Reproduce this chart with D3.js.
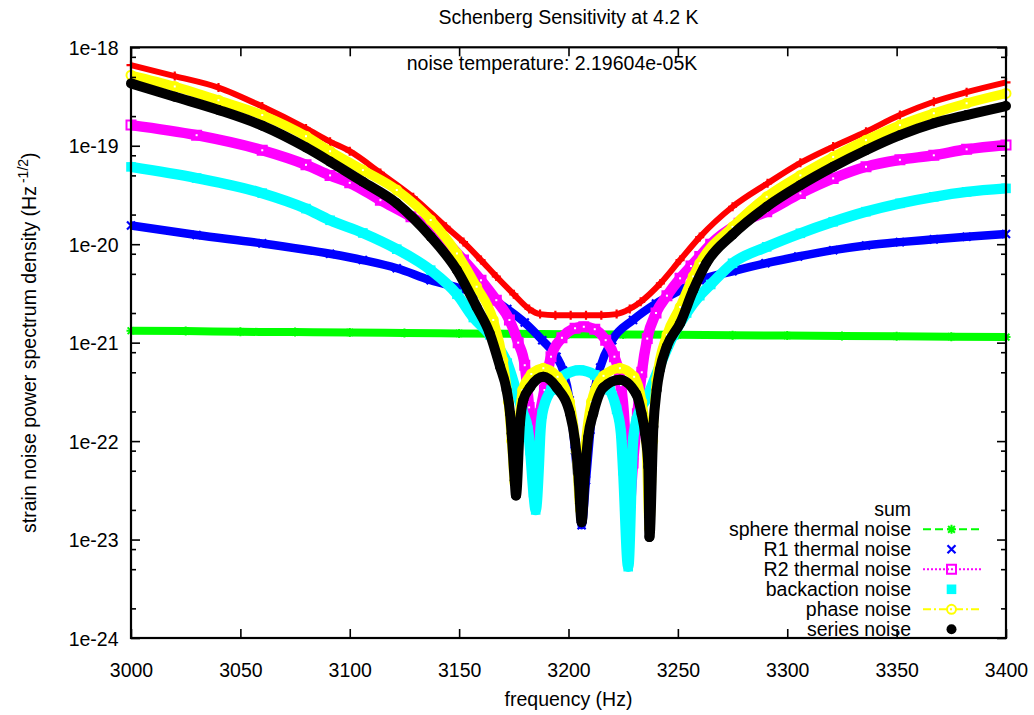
<!DOCTYPE html>
<html><head><meta charset="utf-8">
<script src="https://cdn.jsdelivr.net/npm/d3@7"></script>
<style>
body{margin:0;background:#fff}
svg{display:block;background:#fff}
text{font-family:"Liberation Sans",Arial,Helvetica,sans-serif;fill:#000}
</style>
</head><body>
<svg id="chart" width="1034" height="715"></svg>
<script>
// ---------- data ----------
const chartTitle = "Schenberg Sensitivity at 4.2 K";
const noteText = "noise temperature: 2.19604e-05K";
const xLabel = "frequency (Hz)";
const freqTicks = [3000,3050,3100,3150,3200,3250,3300,3350,3400];
const yMajorTicks = [1e-24,1e-23,1e-22,1e-21,1e-20,1e-19,1e-18];
const yMinorMantissas = [2,5,8];
const seriesNames = ["sum","sphere thermal noise","R1 thermal noise","R2 thermal noise","backaction noise","phase noise","series noise"];

const sumNoise = [[3000,6.6e-19],[3020,5.1e-19],[3040,3.9e-19],[3060,2.5e-19],[3080,1.5e-19],[3091,1.1e-19],[3100,8.8e-20],[3114,5.3e-20],[3129,3.0e-20],[3144,1.5e-20],[3152,1.05e-20],[3160,6.9e-21],[3167,4.7e-21],[3175,3.1e-21],[3182,2.2e-21],[3187,1.95e-21],[3194,1.9e-21],[3201,1.9e-21],[3208,1.9e-21],[3215,1.9e-21],[3222,1.95e-21],[3228,2.2e-21],[3233,2.6e-21],[3242,4.0e-21],[3251,6.9e-21],[3260,1.18e-20],[3275,2.4e-20],[3291,4.15e-20],[3306,6.7e-20],[3321,9.8e-20],[3336,1.39e-19],[3351.5,2.05e-19],[3367,2.8e-19],[3382,3.5e-19],[3400,4.4e-19]];

const sphereThermal = [[3000,1.32e-21],[3025,1.31e-21],[3050,1.29e-21],[3075,1.28e-21],[3100,1.27e-21],[3125,1.25e-21],[3150,1.24e-21],[3175,1.23e-21],[3200,1.22e-21],[3225,1.21e-21],[3250,1.2e-21],[3275,1.19e-21],[3300,1.18e-21],[3325,1.17e-21],[3350,1.16e-21],[3375,1.15e-21],[3400,1.14e-21]];

const r1Thermal = [[3000,1.55e-20],[3030,1.24e-20],[3060,1.02e-20],[3091,8.0e-21],[3106,6.9e-21],[3121.5,5.7e-21],[3137,4.3e-21],[3152,3.5e-21],[3165,2.8e-21],[3172,2.2e-21],[3180,1.6e-21],[3188,1.06e-21],[3194.5,7.2e-22],[3197.5,5.2e-22],[3200.5,2.6e-22],[3203,8e-23],[3205,2.5e-23],[3206,1.4e-23],[3208,4e-23],[3210,1.3e-22],[3212,3.3e-22],[3214.5,5.6e-22],[3220,1.06e-21],[3229.5,1.7e-21],[3240,2.5e-21],[3251,3.4e-21],[3260,4.3e-21],[3275,5.3e-21],[3290,6.4e-21],[3305,7.5e-21],[3321,8.7e-21],[3336,9.7e-21],[3351.5,1.05e-20],[3367,1.12e-20],[3382,1.19e-20],[3400,1.27e-20]];

const r2Thermal = [[3000,1.62e-19],[3030,1.28e-19],[3060,9.0e-20],[3080,6.4e-20],[3091,5.0e-20],[3100,4.2e-20],[3114,2.8e-20],[3128,1.9e-20],[3140,1.3e-20],[3152,6.9e-21],[3160,4.3e-21],[3167,2.7e-21],[3173,1.7e-21],[3177,1.0e-21],[3180,5.9e-22],[3182,2.2e-22],[3184.5,5.5e-23],[3187,1.9e-22],[3189,3.3e-22],[3192,7.2e-22],[3197,1.12e-21],[3203,1.4e-21],[3207,1.45e-21],[3212,1.37e-21],[3217,1.06e-21],[3221,7.2e-22],[3224,3.7e-22],[3226,1.0e-22],[3227,1.3e-23],[3229.5,6e-23],[3231.5,1.9e-22],[3233.5,5e-22],[3236,1.1e-21],[3240,2.0e-21],[3245,3.0e-21],[3251,4.5e-21],[3256,6.0e-21],[3260,7.5e-21],[3265,1.0e-20],[3278,1.63e-20],[3290.6,2.14e-20],[3306,3.28e-20],[3321,4.66e-20],[3336,6.12e-20],[3351.5,7.2e-20],[3367,8.0e-20],[3382,9.2e-20],[3400,1.02e-19]];

const backaction = [[3000,6.1e-20],[3030,4.7e-20],[3060,3.3e-20],[3080,2.3e-20],[3091,1.75e-20],[3106,1.3e-20],[3121.5,8.9e-21],[3137,5.45e-21],[3149,3.1e-21],[3156.5,1.8e-21],[3164,1.2e-21],[3168,9e-22],[3172,6.2e-22],[3176,3.3e-22],[3179,2.0e-22],[3181.5,1.29e-22],[3182.5,8e-23],[3184,3e-23],[3185,2.0e-23],[3186.5,6e-23],[3187,1.1e-22],[3188,1.9e-22],[3192,3.3e-22],[3197,4.5e-22],[3205,5.25e-22],[3212,4.7e-22],[3219,3.3e-22],[3222,2.1e-22],[3224,1.2e-22],[3225,5e-23],[3227.3,5.3e-24],[3229.5,1.0e-22],[3231,1.6e-22],[3236,2.8e-22],[3242,6e-22],[3248,1.2e-21],[3254,2.0e-21],[3260,3.0e-21],[3265,3.9e-21],[3275,6.4e-21],[3290.6,9.4e-21],[3306,1.29e-20],[3321,1.69e-20],[3336,2.14e-20],[3351.5,2.6e-20],[3367,3.03e-20],[3382,3.4e-20],[3400,3.69e-20]];

const phaseNoise = [[3000,5.2e-19],[3020,4.0e-19],[3040,2.9e-19],[3060,2.05e-19],[3080,1.25e-19],[3091,8.8e-20],[3106,5.66e-20],[3121.5,3.55e-20],[3137,1.76e-20],[3149,8.05e-21],[3158,3.7e-21],[3165.6,1.7e-21],[3170,6.6e-22],[3172.5,2.5e-22],[3174,1.0e-22],[3175.5,3.8e-23],[3177.5,1.6e-22],[3179,3.3e-22],[3183,4.8e-22],[3188.5,5.5e-22],[3195,4.5e-22],[3200.5,2.5e-22],[3203.5,8e-23],[3205.5,2e-23],[3207.5,8e-23],[3210.5,2.5e-22],[3216,4.6e-22],[3223.5,5.5e-22],[3230,4.5e-22],[3233.5,2.5e-22],[3235.5,1.0e-22],[3237,1.3e-23],[3238.5,1.0e-22],[3240.3,4.2e-22],[3245,1.2e-21],[3251,2.3e-21],[3257,4.7e-21],[3260,6.4e-21],[3275,1.5e-20],[3290.6,3.03e-20],[3306,5.0e-20],[3321,7.7e-20],[3336,1.14e-19],[3351.5,1.62e-19],[3367,2.14e-19],[3382,2.7e-19],[3400,3.4e-19]];

const seriesNoise = [[3000,4.3e-19],[3020,3.15e-19],[3040,2.31e-19],[3060,1.6e-19],[3080,9.6e-20],[3091,6.9e-20],[3106,4.3e-20],[3121.5,2.6e-20],[3137,1.19e-20],[3149,5.45e-21],[3158,2.3e-21],[3164,1.24e-21],[3168.7,5.7e-22],[3171.7,3.3e-22],[3173.3,1.9e-22],[3174,1.2e-22],[3175.4,4.0e-23],[3176,2.8e-23],[3177.8,1.5e-22],[3179.3,2.6e-22],[3182.4,3.5e-22],[3188.5,4.5e-22],[3194.6,3.5e-22],[3200.7,1.9e-22],[3203,1.0e-22],[3204.5,4.7e-23],[3206,1.5e-23],[3207.5,4.7e-23],[3209,1.1e-22],[3211.3,1.9e-22],[3215.9,3.5e-22],[3223.5,4.2e-22],[3231,3.0e-22],[3233.4,1.9e-22],[3235,1.2e-22],[3236.5,5.5e-23],[3237,1.06e-23],[3238.8,1.4e-22],[3240.3,3.3e-22],[3241.8,5.3e-22],[3244.9,9.1e-22],[3251,1.57e-21],[3257,3.4e-21],[3263,6.4e-21],[3275,1.25e-20],[3290.6,2.4e-20],[3306,3.98e-20],[3321,6.12e-20],[3336,9.0e-20],[3351.5,1.28e-19],[3367,1.69e-19],[3382,2.05e-19],[3400,2.53e-19]];

// ---------- layout ----------
const W = 1034, H = 715;
const L = 131, R = 1006, T = 47.3, B = 638;
const FS = 19.5;

const svg = d3.select("#chart");
svg.append("rect").attr("width", W).attr("height", H).attr("fill", "#fff");

const x = d3.scaleLinear().domain([3000, 3400]).range([L, R]);
const y = d3.scaleLog().domain([1e-24, 1e-18]).range([B, T]);

const yMinorTicks = [];
yMajorTicks.slice(0, -1).forEach(t => yMinorMantissas.forEach(m => yMinorTicks.push(t * m)));

const sym = {
  plus: s => `M${-s},0H${s}M0,${-s}V${s}`,
  cross: s => `M${-s},${-s}L${s},${s}M${-s},${s}L${s},${-s}`,
  star: s => `M${-s},0H${s}M0,${-s}V${s}M${-s*0.75},${-s*0.75}L${s*0.75},${s*0.75}M${-s*0.75},${s*0.75}L${s*0.75},${-s*0.75}`,
  square: s => `M${-s},${-s}H${s}V${s}H${-s}Z`,
  circle: s => `M${s},0A${s},${s} 0 1,1 ${-s},0A${s},${s} 0 1,1 ${s},0Z`
};

const series = [
  {name: seriesNames[0], data: sumNoise, color: "#ff0000", band: 6, marker: "plus", ms: 4.5, mfill: false, mw: 2.2, legendLine: null},
  {name: seriesNames[1], data: sphereThermal, color: "#00ff00", band: 8, marker: "star", ms: 4.5, mfill: false, mw: 2, legendLine: "8,4"},
  {name: seriesNames[2], data: r1Thermal, color: "#0000ff", band: 8.5, marker: "cross", ms: 4, mfill: false, mw: 2.2, legendLine: "none"},
  {name: seriesNames[3], data: r2Thermal, color: "#ff00ff", band: 10.5, marker: "square", ms: 4.5, mfill: false, mw: 2, legendLine: "2,2"},
  {name: seriesNames[4], data: backaction, color: "#00ffff", band: 10.5, marker: "square", ms: 4.8, mfill: true, mw: 0, legendLine: "none"},
  {name: seriesNames[5], data: phaseNoise, color: "#ffff00", band: 9.5, marker: "circle", ms: 4.5, mfill: false, mw: 2, legendLine: "8,3,2,3"},
  {name: seriesNames[6], data: seriesNoise, color: "#000000", band: 10, marker: "circle", ms: 5, mfill: true, mw: 0, legendLine: "none"}
];

const line = d3.line().x(d => x(d[0])).y(d => y(d[1])).curve(d3.curveMonotoneX);

const gData = svg.append("g");
series.forEach(s => {
  const g = gData.append("g");
  g.append("path").attr("d", line(s.data)).attr("fill", "none")
    .attr("stroke", s.color).attr("stroke-width", s.band)
    .attr("stroke-linejoin", "round").attr("stroke-linecap", "butt");
  g.selectAll("path.m").data(s.data).join("path").attr("class", "m")
    .attr("transform", d => `translate(${x(d[0])},${y(d[1])})`)
    .attr("d", sym[s.marker](s.ms))
    .attr("fill", s.mfill ? s.color : "none")
    .attr("stroke", s.mfill ? "none" : s.color)
    .attr("stroke-width", s.mw);
  if (!s.mfill && (s.marker === "square" || s.marker === "circle")) {
    g.selectAll("rect.h").data(s.data).join("rect").attr("class", "h")
      .attr("x", d => x(d[0]) - 1).attr("y", d => y(d[1]) - 1)
      .attr("width", 2).attr("height", 2).attr("fill", "#fff");
  }
});

// ---------- axes ----------
function styleAxis(g) {
  g.select(".domain").remove();
  g.selectAll("line").attr("stroke", "#000").attr("stroke-width", 1.6);
  g.selectAll("text").attr("font-size", FS).attr("font-family", '"Liberation Sans",Arial,sans-serif').attr("fill", "#000");
}
const fmtY = d => "1e" + Math.round(Math.log10(d));

svg.append("g").attr("transform", `translate(0,${B})`)
  .call(d3.axisBottom(x).tickValues(freqTicks).tickSize(-9).tickPadding(25).tickFormat(d3.format("d")))
  .call(styleAxis);
svg.append("g").attr("transform", `translate(0,${T})`)
  .call(d3.axisTop(x).tickValues(freqTicks).tickSize(-9).tickFormat(""))
  .call(styleAxis);
svg.append("g").attr("transform", `translate(${L},0)`)
  .call(d3.axisLeft(y).tickValues(yMajorTicks).tickSize(-9).tickPadding(12.5).tickFormat(fmtY))
  .call(styleAxis)
  .selectAll("text").attr("dy", "0.36em");
svg.append("g").attr("transform", `translate(${L},0)`)
  .call(d3.axisLeft(y).tickValues(yMinorTicks).tickSize(-5).tickFormat(""))
  .call(styleAxis);
svg.append("g").attr("transform", `translate(${R},0)`)
  .call(d3.axisRight(y).tickValues(yMajorTicks).tickSize(-9).tickFormat(""))
  .call(styleAxis);
svg.append("g").attr("transform", `translate(${R},0)`)
  .call(d3.axisRight(y).tickValues(yMinorTicks).tickSize(-5).tickFormat(""))
  .call(styleAxis);

svg.append("rect").attr("x", L).attr("y", T).attr("width", R - L).attr("height", B - T)
  .attr("fill", "none").attr("stroke", "#000").attr("stroke-width", 2.2);

// ---------- texts ----------
svg.append("text").attr("x", (L + R) / 2).attr("y", 24).attr("text-anchor", "middle")
  .attr("font-size", FS).text(chartTitle);
svg.append("text").attr("x", 552).attr("y", 69.5).attr("text-anchor", "middle")
  .attr("font-size", FS).text(noteText);
svg.append("text").attr("x", (L + R) / 2).attr("y", 706).attr("text-anchor", "middle")
  .attr("font-size", FS).text(xLabel);
const yl = svg.append("text").attr("transform", `translate(36,${(T + B) / 2}) rotate(-90)`)
  .attr("text-anchor", "middle").attr("font-size", FS);
yl.append("tspan").text("strain noise power spectrum density (Hz");
yl.append("tspan").attr("font-size", FS * 0.72).attr("dy", -8).attr("dx", 3).text("-1/2");
yl.append("tspan").attr("dy", 8).text(")");

// ---------- legend ----------
const legX = 911, legSampleL = 923, legSampleR = 982, legY0 = 509.3, legStep = 20;
const leg = svg.append("g");
series.forEach((s, i) => {
  const cy = legY0 + i * legStep;
  leg.append("text").attr("x", legX).attr("y", cy + 7).attr("text-anchor", "end")
    .attr("font-size", FS).text(s.name);
  if (i === 0) return;
  const cx = (legSampleL + legSampleR) / 2 - 1;
  if (s.legendLine && s.legendLine !== "none") {
    leg.append("line").attr("x1", legSampleL).attr("x2", legSampleR).attr("y1", cy).attr("y2", cy)
      .attr("stroke", s.color).attr("stroke-width", 2).attr("stroke-dasharray", s.legendLine);
  }
  leg.append("path").attr("transform", `translate(${cx},${cy})`)
    .attr("d", sym[s.marker](s.ms))
    .attr("fill", s.mfill ? s.color : "none")
    .attr("stroke", s.mfill ? "none" : s.color)
    .attr("stroke-width", s.mw);
});
</script>
</body></html>
